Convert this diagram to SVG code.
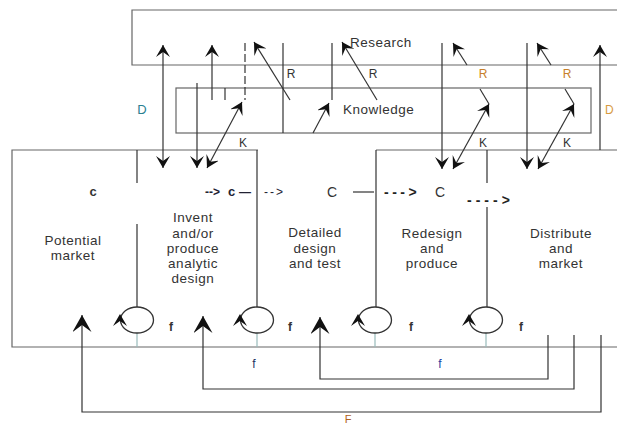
<svg xmlns="http://www.w3.org/2000/svg" width="617" height="425" viewBox="0 0 617 425">
<style>
text{font-family:"Liberation Sans",Arial,sans-serif;fill:#333}
.lbl{font-size:13.5px;letter-spacing:0.5px;text-anchor:middle}
.sm{font-size:12px;text-anchor:middle}
.b{font-weight:bold}
.frame{fill:none;stroke:#666;stroke-width:1.2}
.ln{fill:none;stroke:#333;stroke-width:1.2}
.loop{fill:none;stroke:#333;stroke-width:1.3}
.tick{stroke:#9bb;stroke-width:1.2}
.ar{marker-end:url(#a)}
.ar2{marker-start:url(#a);marker-end:url(#a)}
.big{marker-end:url(#b)}
</style>
<defs>
<marker id="a" markerUnits="userSpaceOnUse" viewBox="0 0 12 14" markerWidth="12" markerHeight="14" refX="12" refY="7" orient="auto-start-reverse"><path d="M12,7 L0,0 L5,7 L0,14 Z" fill="#111"/></marker>
<marker id="b" markerUnits="userSpaceOnUse" viewBox="0 0 17 19" markerWidth="17" markerHeight="19" refX="17" refY="9.5" orient="auto"><path d="M17,9.5 L0,0 L7,9.5 L0,19 Z" fill="#111"/></marker>
</defs>
<rect width="617" height="425" fill="#fff"/>

<g id="research">
<path class="frame" d="M617,10 H132 V65 H617"/>
<text x="350" y="47" style="font-size:13.5px;letter-spacing:0.5px">Research</text>
</g>
<g id="knowledge">
<rect class="frame" x="176" y="88" width="415" height="45"/>
<text x="343" y="114" style="font-size:13.5px;letter-spacing:0.5px">Knowledge</text>
</g>
<g id="frame">
<path class="frame" d="M258,150 H12 V347 H617"/>
<path class="frame" d="M376,150 H617"/>
</g>
<g id="potential-market">
<text class="sm b" x="93" y="196" style="font-size:13px">c</text>
<text class="lbl" x="73" y="245">Potential</text>
<text class="lbl" x="73" y="260">market</text>
</g>
<g id="invent">
<text class="lbl" x="193" y="222">Invent</text>
<text class="lbl" x="193" y="238">and/or</text>
<text class="lbl" x="193" y="253">produce</text>
<text class="lbl" x="193" y="268">analytic</text>
<text class="lbl" x="193" y="283">design</text>
<text class="b" x="205" y="196" style="font-size:12px;fill:#223">--&gt;</text>
<text class="b" x="228" y="196" style="font-size:13px;fill:#223">c</text>
<text class="b" x="239" y="196" style="font-size:12px;fill:#223">—</text>
</g>
<g id="detailed-design">
<text x="264" y="196" style="font-size:12px;letter-spacing:2px;fill:#223">--&gt;</text>
<text class="lbl" x="315" y="237">Detailed</text>
<text class="lbl" x="315" y="253">design</text>
<text class="lbl" x="315" y="268">and test</text>
<text x="327" y="197" style="font-size:14px">C</text>
<text x="384" y="197" style="font-size:14px;letter-spacing:3.5px;font-weight:bold;fill:#222">---&gt;</text>
</g>
<g id="redesign">
<text class="lbl" x="432" y="238">Redesign</text>
<text class="lbl" x="432" y="253">and</text>
<text class="lbl" x="432" y="268">produce</text>
<text x="435" y="197" style="font-size:14px">C</text>
<text x="467" y="205" style="font-size:14px;letter-spacing:4px;font-weight:bold;fill:#222">----&gt;</text>
</g>
<g id="distribute">
<text class="lbl" x="561" y="238">Distribute</text>
<text class="lbl" x="561" y="253">and</text>
<text class="lbl" x="561" y="268">market</text>
</g>
<g id="labels">
<text class="sm" x="291" y="78">R</text>
<text class="sm" x="373" y="78">R</text>
<text class="sm" x="483" y="78" style="fill:#c8802a">R</text>
<text class="sm" x="567" y="78" style="fill:#c8802a">R</text>
<text class="sm" x="243" y="147">K</text>
<text class="sm" x="483" y="147">K</text>
<text class="sm" x="567" y="147">K</text>
<text class="sm" x="142" y="114" style="font-size:13px;fill:#2a8090">D</text>
<text x="605" y="114" style="font-size:12px;fill:#d89a40">D</text>
<text class="sm b" x="171" y="331">f</text>
<text class="sm b" x="290" y="331">f</text>
<text class="sm b" x="411" y="331">f</text>
<text class="sm b" x="521" y="331">f</text>
<text class="sm" x="254" y="368" style="fill:#203060">f</text>
<text class="sm" x="440" y="368" style="fill:#2040a0">f</text>
<text class="sm" x="348" y="423" style="fill:#b06020;font-size:11px">F</text>
</g>
<g id="connectors">
<path class="ln" d="M137,150 V183 M137,224 V307"/>
<path class="ln" d="M257,150 V307"/>
<path class="ln" d="M376,150 V307"/>
<path class="ln" d="M487,150 V183 M487,207 V307"/>
<path class="ln" d="M353,192 H374"/>
<path class="tick" d="M137,333 V347 M257,333 V347 M375,333 V347 M486,333 V347"/>
<ellipse class="loop" cx="137" cy="320" rx="16.5" ry="13"/>
<ellipse class="loop" cx="257" cy="320" rx="16.5" ry="13"/>
<ellipse class="loop" cx="375" cy="320" rx="16.5" ry="13"/>
<ellipse class="loop" cx="486" cy="320" rx="16.5" ry="13"/>
<path fill="#111" d="M120,314 L113,326 L120,321 L127,326 Z M240,314 L233,326 L240,321 L247,326 Z M358,314 L351,326 L358,321 L365,326 Z M469,314 L462,326 L469,321 L476,326 Z"/>
<path class="ln big" d="M548,335 V379 H320 V317"/>
<path class="ln big" d="M574,335 V389 H203 V316"/>
<path class="ln big" d="M601,335 V412 H82 V315"/>
<path class="ln ar2" d="M163,168 V45"/>
<path class="ln ar" d="M197,83 V168"/>
<path class="ln ar" d="M212,100 V45"/>
<path class="ln" d="M225,88 V100"/>
<path class="ln" d="M245,43 V100" stroke-dasharray="8,3"/>
<path class="ln" d="M283,43 V133"/>
<path class="ln" d="M332,43 V100"/>
<path class="ln ar" d="M290,100 L254,42"/>
<path class="ln ar" d="M377,100 L342,42"/>
<path class="ln ar" d="M313,133 L329,103"/>
<path class="ln ar2" d="M207,168 L242,102"/>
<path class="ln ar" d="M442,43 V169"/>
<path class="ln ar" d="M527,43 V169"/>
<path class="ln ar" d="M467,65 L453,43"/>
<path class="ln ar" d="M551,65 L537,43"/>
<path class="ln" d="M480,89 L489,104"/>
<path class="ln ar2" d="M453,169 L489,104"/>
<path class="ln" d="M565,89 L574,104"/>
<path class="ln ar2" d="M538,169 L574,104"/>
<path class="ln ar" d="M600,150 V45"/>
</g>
</svg>
